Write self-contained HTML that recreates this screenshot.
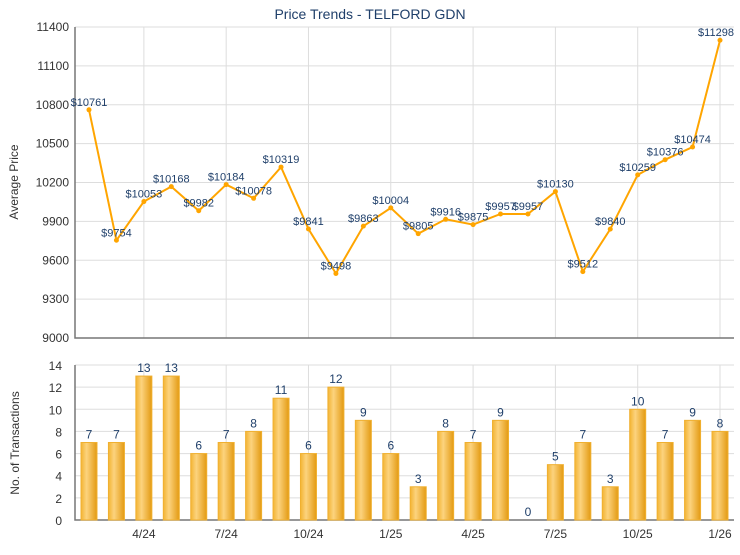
<!DOCTYPE html>
<html><head><meta charset="utf-8"><style>
body{margin:0;background:#fff;font-family:"Liberation Sans",Arial,sans-serif}
svg text{font-family:"Liberation Sans",Arial,sans-serif}
</style></head><body>
<svg width="740" height="550" xmlns="http://www.w3.org/2000/svg">
<defs>
<linearGradient id="bg" x1="0" x2="1" y1="0" y2="0">
<stop offset="0" stop-color="#f3b433"/><stop offset="0.35" stop-color="#fcd37e"/><stop offset="1" stop-color="#e39a12"/>
</linearGradient>
</defs>
<text x="370" y="19" text-anchor="middle" font-size="14" fill="#1f3f6a">Price Trends - TELFORD GDN</text>
<g id="topg"></g>
<g id="botg"></g>
<text transform="translate(18,182) rotate(-90)" text-anchor="middle" font-size="12" fill="#333">Average Price</text>
<text transform="translate(19,443) rotate(-90)" text-anchor="middle" font-size="12" fill="#333">No. of Transactions</text>
</svg>
<script>
const months=["2/24","3/24","4/24","5/24","6/24","7/24","8/24","9/24","10/24","11/24","12/24","1/25","2/25","3/25","4/25","5/25","6/25","7/25","8/25","9/25","10/25","11/25","12/25","1/26"];
const prices=[10761,9754,10053,10168,9982,10184,10078,10319,9841,9498,9863,10004,9805,9916,9875,9957,9957,10130,9512,9840,10259,10376,10474,11298];
const counts=[7,7,13,13,6,7,8,11,6,12,9,6,3,8,7,9,0,5,7,3,10,7,9,8];
const priceTicks=[9000,9300,9600,9900,10200,10500,10800,11100,11400];
const countTicks=[0,2,4,6,8,10,12,14];
const xLabelIdx=[2,5,8,11,14,17,20,23];
const NS="http://www.w3.org/2000/svg";
const L=75,R=734;
const x=i=>89+i*(720-89)/23;
const yP=v=>338-(v-9000)/(11400-9000)*(338-27);
const yC=v=>520-v/14*(520-365);
function mk(p,t,a){const e=document.createElementNS(NS,t);for(const k in a)e.setAttribute(k,a[k]);p.appendChild(e);return e;}
const gTop=document.getElementById('topg'),gBot=document.getElementById('botg');
priceTicks.forEach(v=>{
 const g=mk(gTop,'line',{x1:L,x2:R,y1:yP(v),y2:yP(v),stroke:'#ddd','stroke-width':1});
 
 
 const t=mk(gTop,'text',{x:L-6,y:yP(v)+4,'text-anchor':'end','font-size':12,fill:'#333'});t.textContent=v;
 
 
});
countTicks.forEach(v=>{
 const g=mk(gBot,'line',{x1:L,x2:R,y1:yC(v),y2:yC(v),stroke:'#ddd','stroke-width':1});
 
 
 const t=mk(gBot,'text',{x:L-13,y:yC(v)+5,'text-anchor':'end','font-size':12,fill:'#333'});t.textContent=v;
 
 
});
xLabelIdx.forEach(i=>{
 [[gTop,27,338],[gBot,365,520]].forEach(([p,a,b])=>{
  const g=mk(p,'line',{x1:x(i),x2:x(i),y1:a,y2:b,stroke:'#ddd','stroke-width':1});
  
  
 });
 const t=mk(gBot,'text',{x:x(i),y:538,'text-anchor':'middle','font-size':12,fill:'#333'});t.textContent=months[i];
 
 
});
[[gTop,27,338],[gBot,365,520]].forEach(([p,a,b])=>{
 const ax=mk(p,'path',{d:`M${L},${a}V${b}H${R}`,stroke:'#777','stroke-width':1.5,fill:'none'});
 
 
});
const line=mk(gTop,'polyline',{points:prices.map((v,i)=>x(i)+','+yP(v)).join(' '),fill:'none',stroke:'#ffa500','stroke-width':2});


prices.forEach((v,i)=>{
 const c=mk(gTop,'circle',{cx:x(i),cy:yP(v),r:2.5,fill:'#ffa500'});
 
 
 const t=mk(gTop,'text',{x:Math.min(x(i),716),y:yP(v)-4,'text-anchor':'middle','font-size':11,fill:'#1f3f6a'});t.textContent='$'+v;
 
 
});
counts.forEach((v,i)=>{
 if(v>0){const b=mk(gBot,'rect',{x:x(i)-8,y:yC(v),width:16,height:yC(0)-yC(v),fill:'url(#bg)',stroke:'#f0b030','stroke-width':1});
 
 }
 const t=mk(gBot,'text',{x:x(i),y:yC(v)-4,'text-anchor':'middle','font-size':12,fill:'#1f3f6a'});t.textContent=v;
 
 
});
</script>
</body></html>
